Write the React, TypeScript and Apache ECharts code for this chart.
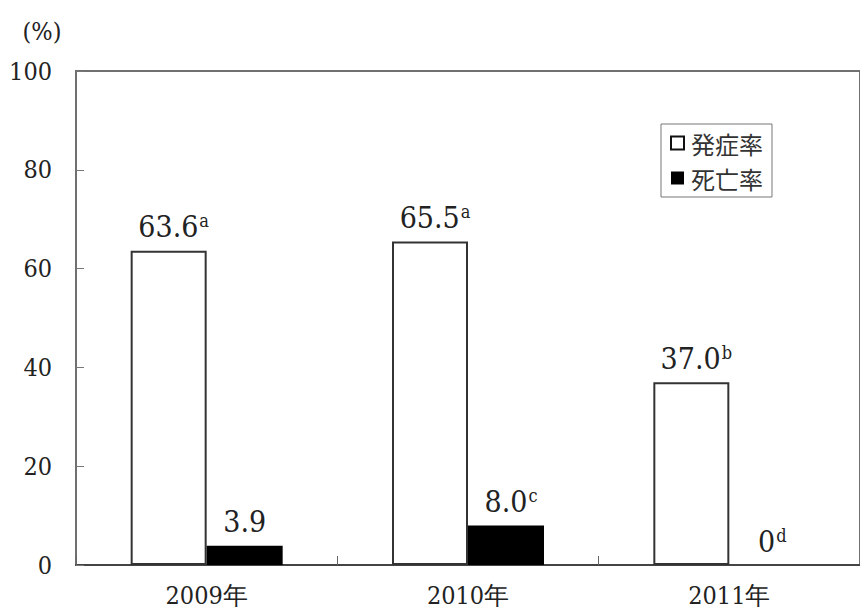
import React, { useEffect, useRef } from "react";
import * as echarts from "echarts";

const categories = ["2009年", "2010年", "2011年"];
const seriesNames = ["発症率", "死亡率"];
const incidence = [63.6, 65.5, 37.0];
const incidenceSup = ["a", "a", "b"];
const mortality = [3.9, 8.0, 0];
const mortalitySup = ["", "c", "d"];
const yTicks = [0, 20, 40, 60, 80, 100];

const SERIF = "DejaVu Serif Condensed, DejaVu Serif";
const CJK = "Noto Sans CJK JP";

const fmt = (v: number) => (v === 0 ? "0" : v.toFixed(1));

const makeData = (vals: number[], sups: string[]) =>
  vals.map((v, i) => ({
    value: v,
    label: { offset: [sups[i] ? 5 : 0, 0] },
  }));

const labelCfg = (sups: string[]) => ({
  show: true,
  position: "top",
  distance: 9,
  formatter: (p: any) => {
    const s = sups[p.dataIndex];
    return `{v|${fmt(p.value)}}` + (s ? `{s|${s}}` : "");
  },
  rich: {
    v: { fontFamily: SERIF, fontSize: 30, color: "#222", lineHeight: 30, verticalAlign: "bottom" },
    s: { fontFamily: SERIF, fontSize: 18, color: "#222", lineHeight: 18, verticalAlign: "top", padding: [0, 0, 0, 1] },
  },
});

export default function App() {
  const ref = useRef<HTMLDivElement>(null);
  useEffect(() => {
    if (!ref.current) return;
    const chart = echarts.init(ref.current, null, { renderer: "svg" });
    chart.setOption({
      animation: false,
      backgroundColor: "#ffffff",
      textStyle: { fontFamily: SERIF },
      grid: {
        left: 76,
        top: 71,
        bottom: 47,
        right: -14,
        show: true,
        borderColor: "#707070",
        borderWidth: 2,
        backgroundColor: "transparent",
      },
      legend: {
        orient: "vertical",
        left: 661,
        top: 124,
        padding: [7, 9, 7, 9],
        itemGap: 11,
        itemWidth: 13,
        itemHeight: 13,
        backgroundColor: "#ffffff",
        borderColor: "#777777",
        borderWidth: 1,
        borderRadius: 0,
        textStyle: { fontFamily: CJK, fontSize: 24, color: "#333", lineHeight: 24, padding: [0, 0, 0, 2] },
        data: [
          { name: seriesNames[0], icon: "rect", itemStyle: { color: "#ffffff", borderColor: "#111", borderWidth: 2 } },
          { name: seriesNames[1], icon: "rect", itemStyle: { color: "#000000", borderWidth: 0 } },
        ],
      },
      xAxis: {
        type: "category",
        data: categories,
        boundaryGap: true,
        axisLine: { show: true, lineStyle: { color: "#444", width: 2 } },
        axisTick: { show: true, inside: true, length: 9, lineStyle: { color: "#666", width: 1 } },
        axisLabel: { fontFamily: SERIF, fontSize: 25, color: "#222", margin: 18 },
      },
      yAxis: {
        type: "value",
        min: 0,
        max: 100,
        interval: 20,
        name: "(%)",
        nameLocation: "end",
        nameGap: 27,
        nameTextStyle: { fontFamily: SERIF, fontSize: 25, color: "#222", align: "center", padding: [0, 68, 0, 0] },
        axisLine: { show: true, lineStyle: { color: "#707070", width: 2 } },
        axisTick: { show: true, inside: true, length: 8, lineStyle: { color: "#777", width: 1 } },
        splitLine: { show: false },
        axisLabel: {
          fontFamily: SERIF,
          fontSize: 25,
          color: "#222",
          margin: 24,
          formatter: (v: number) => (yTicks.includes(v) ? String(v) : ""),
        },
      },
      series: [
        {
          name: seriesNames[0],
          type: "bar",
          barWidth: 76,
          barGap: "0%",
          data: makeData(incidence, incidenceSup),
          itemStyle: { color: "#ffffff", borderColor: "#333", borderWidth: 2 },
          label: labelCfg(incidenceSup),
        },
        {
          name: seriesNames[1],
          type: "bar",
          barWidth: 76,
          barGap: "0%",
          data: makeData(mortality, mortalitySup),
          itemStyle: { color: "#000000" },
          label: labelCfg(mortalitySup),
        },
      ],
    });
    return () => chart.dispose();
  }, []);
  return (
    <div
      ref={ref}
      style={{ position: "fixed", left: 0, top: 0, width: 860, height: 612, background: "#fff" }}
    />
  );
}
